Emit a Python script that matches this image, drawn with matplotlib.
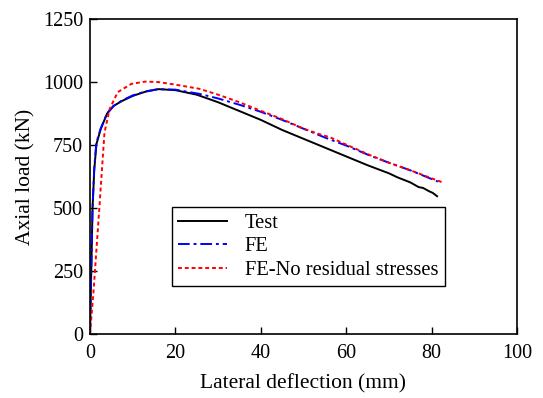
import matplotlib
matplotlib.use("Agg")
import matplotlib.pyplot as plt

plt.rcParams["font.family"] = ["Liberation Serif", "DejaVu Serif"]
plt.rcParams["font.size"] = 14.5

# Test curve
test_x = [0, 0.3, 0.6, 1, 1.5, 2.5, 4, 5.5, 7.5, 10, 13, 16, 20, 25, 30, 35,
          40, 45, 50, 55, 60, 65, 70, 72, 75, 77, 78, 79.5, 80.3, 81.3]
test_y = [0, 250, 500, 650, 753, 813, 875, 905, 925, 945, 962, 972, 968, 950,
          920, 885, 850, 810, 775, 740, 705, 670, 638, 622, 602, 583, 580,
          566, 560, 547]

# FE
fe_x = [0, 0.3, 0.6, 1, 1.5, 2.5, 4, 5.5, 7.5, 10, 13, 16, 20, 25.7, 30, 35,
        40, 45, 50, 55, 60, 65.6, 70, 75, 79.6, 81.5]
fe_y = [0, 250, 500, 660, 760, 815, 875, 905, 927, 947, 963, 972, 970, 953,
        935, 910, 882, 850, 815, 780, 748, 708, 680, 650, 618, 605]

# FE - no residual stresses
nr_x = [0, 0.8, 1.9, 2.7, 3.4, 4.6, 6.5, 9.7, 13, 16, 20, 25.7, 30, 35, 40,
        45, 50, 53.8, 56.2, 60, 65.6, 70, 75, 80, 82.7]
nr_y = [0, 162, 428, 627, 800, 893, 960, 993, 1002, 1000, 990, 973, 950, 920,
        886, 853, 815, 793, 781, 752, 710, 680, 650, 618, 601]

fig = plt.figure(figsize=(5.43, 3.98), dpi=100)
ax = fig.add_axes([0.1657, 0.1608, 0.7863, 0.7912])

ax.plot(test_x, test_y, color="black", lw=1.4, label="Test")
ax.plot(fe_x, fe_y, color="#0000ff", lw=1.4, linestyle=(0, (6, 2, 1.5, 2)), label="FE")
ax.plot(nr_x, nr_y, color="#ff0000", lw=1.4, linestyle=(0, (2, 1.5)),
        label="FE-No residual stresses")

ax.set_xlim(0, 100)
ax.set_ylim(0, 1250)
ax.set_xticks([0, 20, 40, 60, 80, 100])
ax.set_yticks([0, 250, 500, 750, 1000, 1250])
ax.tick_params(direction="in", length=5, width=1, top=False, right=False)
ax.tick_params(axis="x", pad=7.5)
ax.tick_params(axis="y", pad=5)
for s in ax.spines.values():
    s.set_linewidth(1.2)

ax.set_xlabel("Lateral deflection (mm)", fontsize=15.5, labelpad=8)
ax.set_ylabel("Axial load (kN)", fontsize=15.5, labelpad=5)

leg = ax.legend(loc="lower left", bbox_to_anchor=(0.192, 0.152), borderaxespad=0,
                fancybox=False, edgecolor="black", framealpha=1, handlelength=2.4,
                handletextpad=0.85, fontsize=14.8, labelspacing=0.2,
                borderpad=0.3)
leg.get_frame().set_linewidth(1.0)

fig.savefig("out.png", dpi=100)
